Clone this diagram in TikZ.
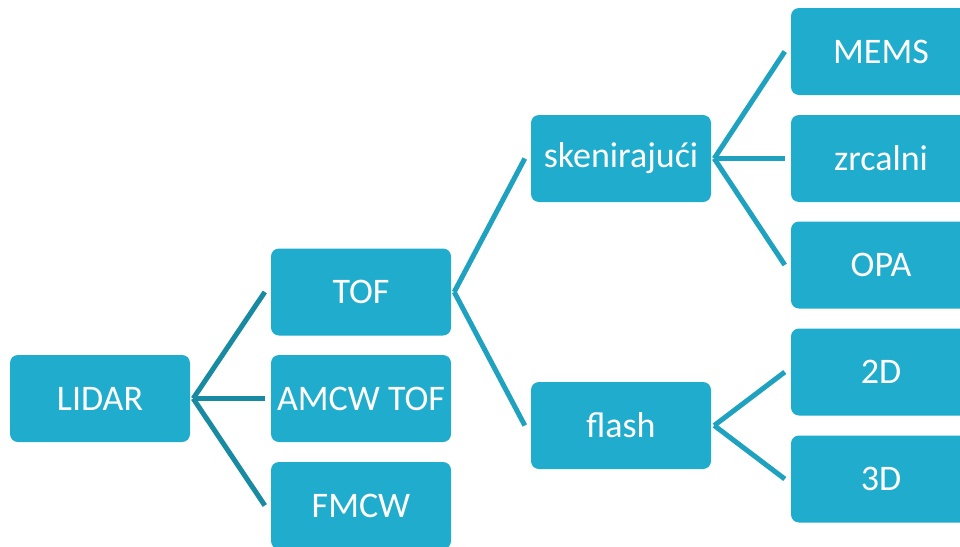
\documentclass[tikz,border=0pt]{standalone}
\usepackage{fontspec}
\setmainfont{Carlito}
\definecolor{boxfill}{RGB}{32,172,204}
\definecolor{linkA}{RGB}{24,138,162}
\definecolor{linkB}{RGB}{30,162,192}
\begin{document}
\begin{tikzpicture}[x=1pt,y=-1pt,
  box/.style={fill=boxfill,rounded corners=8pt,minimum width=180pt,minimum height=87pt,inner sep=0pt,text=white,font=\fontsize{36}{40}\selectfont},
  linka/.style={draw=linkA,line width=5pt},
  linkb/.style={draw=linkB,line width=5pt}]
\useasboundingbox (0,0) rectangle (960,546);
\clip (0,0) rectangle (960,546);
\node[box] (lidar) at (100,398.5) {LIDAR};
\node[box] (tof) at (361,292) {TOF};
\node[box] (amcw) at (361,398.5) {AMCW TOF};
\node[box] (fmcw) at (361,505.5) {FMCW};
\node[box] (sken) at (621,158.5) {skenirajući};
\node[box] (flash) at (621,425.5) {flash};
\node[box] (mems) at (881,51.5) {MEMS};
\node[box] (zrc) at (881,158.5) {zrcalni};
\node[box] (opa) at (881,265) {OPA};
\node[box] (d2) at (881,372) {2D};
\node[box] (d3) at (881,479) {3D};
\foreach \c in {tof,amcw,fmcw}
  \draw[linka] ([xshift=-6pt]\c.west) -- ([xshift=3pt]lidar.east);
\foreach \c in {sken,flash}
  \draw[linkb] ([xshift=-6pt]\c.west) -- ([xshift=3pt]tof.east);
\foreach \c in {mems,zrc,opa}
  \draw[linkb] ([xshift=-6pt]\c.west) -- ([xshift=3pt]sken.east);
\foreach \c in {d2,d3}
  \draw[linkb] ([xshift=-6pt]\c.west) -- ([xshift=3pt]flash.east);
\end{tikzpicture}
\end{document}
